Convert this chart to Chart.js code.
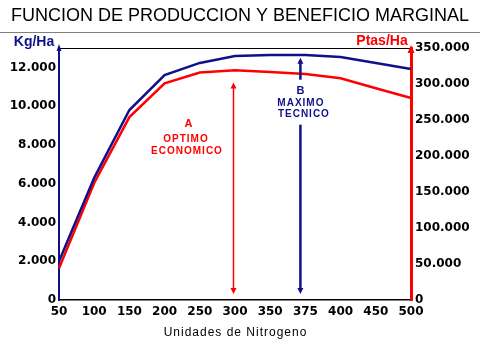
<!DOCTYPE html>
<html><head><meta charset="utf-8">
<script src="https://cdn.jsdelivr.net/npm/chart.js@4.4.1/dist/chart.umd.min.js"></script>
<style>html,body{margin:0;padding:0;background:#fff;overflow:hidden}canvas{display:block}</style>
</head><body>
<canvas id="c" width="480" height="360"></canvas>
<script>
const chartTitle = 'FUNCION DE PRODUCCION Y BENEFICIO MARGINAL';
const categories = ['50','100','150','200','250','300','350','375','400','450','500'];
const produccion = [2000, 6300, 9800, 11600, 12230, 12590, 12640, 12640, 12540, 12230, 11920];
const beneficio = [44000, 162500, 254000, 301000, 316000, 319000, 316500, 314000, 308000, 294000, 280500];
const leftTicks = [0, 2000, 4000, 6000, 8000, 10000, 12000];
const rightTicks = [0, 50000, 100000, 150000, 200000, 250000, 300000, 350000];
const leftMax = 13000;
const rightMax = 350000;
const leftUnit = 'Kg/Ha';
const rightUnit = 'Ptas/Ha';
const xTitle = 'Unidades de Nitrogeno';
const optimoCategory = '300';
const optimoValue = 302000;
const optimoLabels = ['A', 'OPTIMO', 'ECONOMICO'];
const maximoCategory = '375';
const maximoValue = 12500;
const maximoLabels = ['B', 'MAXIMO', 'TECNICO'];

const NAVY = '#10108a';
const RED = '#ff0000';
const fmt = v => String(v).replace(/\B(?=(\d{3})+(?!\d))/g, '.');
const tickFont = {family: '"DejaVu Sans"', size: 12, weight: 'bold'};

function arrowHead(ctx, x, y, dir, w, h, color) {
  ctx.beginPath();
  ctx.moveTo(x, y);
  ctx.lineTo(x - w / 2, y - dir * h);
  ctx.lineTo(x + w / 2, y - dir * h);
  ctx.closePath();
  ctx.fillStyle = color;
  ctx.fill();
}
function txt(ctx, s, x, y, font, color, spacing) {
  ctx.save();
  ctx.font = font;
  ctx.fillStyle = color;
  ctx.textAlign = 'center';
  ctx.textBaseline = 'middle';
  if ('letterSpacing' in ctx) ctx.letterSpacing = (spacing || 0) + 'px';
  ctx.fillText(s, x + (spacing || 0) / 2, y);
  ctx.restore();
}

const decor = {
  id: 'decor',
  afterDraw(chart) {
    const ctx = chart.ctx;
    const a = chart.chartArea;
    const x = chart.scales.x, yl = chart.scales.yl, yr = chart.scales.yr;
    ctx.save();
    // title & separator
    txt(ctx, chartTitle, chart.width / 2, 16, '18px "Liberation Sans"', '#000', 0);
    ctx.strokeStyle = '#808080'; ctx.lineWidth = 1;
    ctx.beginPath(); ctx.moveTo(0, 32.5); ctx.lineTo(chart.width, 32.5); ctx.stroke();
    // top frame line
    ctx.strokeStyle = '#000'; ctx.lineWidth = 1;
    ctx.beginPath(); ctx.moveTo(a.left, a.top + 0.5); ctx.lineTo(a.right, a.top + 0.5); ctx.stroke();
    // axis arrows
    arrowHead(ctx, a.left, a.top - 4, -1, 5, 7, NAVY);
    arrowHead(ctx, a.right, a.top - 3, -1, 7, 8, RED);
    // unit labels
    txt(ctx, leftUnit, 34, 42, 'bold 14px "Liberation Sans"', NAVY, 0);
    txt(ctx, rightUnit, 382, 41, 'bold 14px "Liberation Sans"', RED, 0);
    // x title
    txt(ctx, xTitle, (a.left + a.right) / 2, 333, '12px "Liberation Sans"', '#000', 1);

    // optimo economico arrow
    const xa = x.getPixelForValue(categories.indexOf(optimoCategory)) - 1.5;
    const ta = yr.getPixelForValue(optimoValue);
    const ba = a.bottom - 6;
    ctx.strokeStyle = RED; ctx.lineWidth = 1.5;
    ctx.beginPath(); ctx.moveTo(xa, ta + 5); ctx.lineTo(xa, ba - 5); ctx.stroke();
    arrowHead(ctx, xa, ta, -1, 6, 6, RED);
    arrowHead(ctx, xa, ba, 1, 6, 6, RED);
    txt(ctx, optimoLabels[0], xa - 45, ta + 41, 'bold 11px "Liberation Sans"', RED, 0);
    txt(ctx, optimoLabels[1], xa - 48, ta + 57, 'bold 10px "Liberation Sans"', RED, 1);
    txt(ctx, optimoLabels[2], xa - 47, ta + 69, 'bold 10px "Liberation Sans"', RED, 1);

    // maximo tecnico arrow
    const xb = x.getPixelForValue(categories.indexOf(maximoCategory)) - 5;
    const tb = yl.getPixelForValue(maximoValue);
    const bb = a.bottom - 6;
    ctx.strokeStyle = NAVY; ctx.lineWidth = 2.5;
    ctx.beginPath(); ctx.moveTo(xb, tb + 5); ctx.lineTo(xb, tb + 22); ctx.stroke();
    ctx.beginPath(); ctx.moveTo(xb, tb + 67); ctx.lineTo(xb, bb - 5); ctx.stroke();
    arrowHead(ctx, xb, tb, -1, 6, 6, NAVY);
    arrowHead(ctx, xb, bb, 1, 6, 6, NAVY);
    txt(ctx, maximoLabels[0], xb, tb + 33, 'bold 11px "Liberation Sans"', NAVY, 0);
    txt(ctx, maximoLabels[1], xb, tb + 46, 'bold 10px "Liberation Sans"', NAVY, 1);
    txt(ctx, maximoLabels[2], xb + 3, tb + 57, 'bold 10px "Liberation Sans"', NAVY, 1);
    ctx.restore();
  }
};

new Chart(document.getElementById('c'), {
  type: 'line',
  data: {
    labels: categories,
    datasets: [
      {label: 'Produccion', data: produccion, yAxisID: 'yl', borderColor: NAVY, borderWidth: 2.5, pointRadius: 0, tension: 0, fill: false},
      {label: 'Beneficio', data: beneficio, yAxisID: 'yr', borderColor: RED, borderWidth: 2.5, pointRadius: 0, tension: 0, fill: false}
    ]
  },
  options: {
    responsive: false,
    devicePixelRatio: 1,
    animation: false,
    layout: {padding: {top: 48, left: 0, right: 0, bottom: 0}},
    plugins: {legend: {display: false}, tooltip: {enabled: false}, title: {display: false}},
    scales: {
      x: {
        type: 'category', offset: false,
        grid: {display: false, drawTicks: false},
        border: {display: true, color: '#000', width: 1.5},
        ticks: {font: tickFont, color: '#000', padding: 5, maxRotation: 0, autoSkip: false},
        afterFit(s) { s.height = 60; }
      },
      yl: {
        position: 'left', min: 0, max: leftMax,
        grid: {display: false, drawTicks: false},
        border: {display: true, color: NAVY, width: 2},
        afterBuildTicks(s) { s.ticks = leftTicks.map(v => ({value: v})); },
        ticks: {font: tickFont, color: '#000', padding: 3, callback: v => fmt(v)},
        afterFit(s) { s.width = 59; }
      },
      yr: {
        position: 'right', min: 0, max: rightMax,
        grid: {display: false, drawTicks: false},
        border: {display: true, color: RED, width: 3},
        afterBuildTicks(s) { s.ticks = rightTicks.map(v => ({value: v})); },
        ticks: {font: tickFont, color: '#000', padding: 4, callback: v => fmt(v)},
        afterFit(s) { s.width = 69; }
      }
    }
  },
  plugins: [decor]
});
</script>
</body></html>
